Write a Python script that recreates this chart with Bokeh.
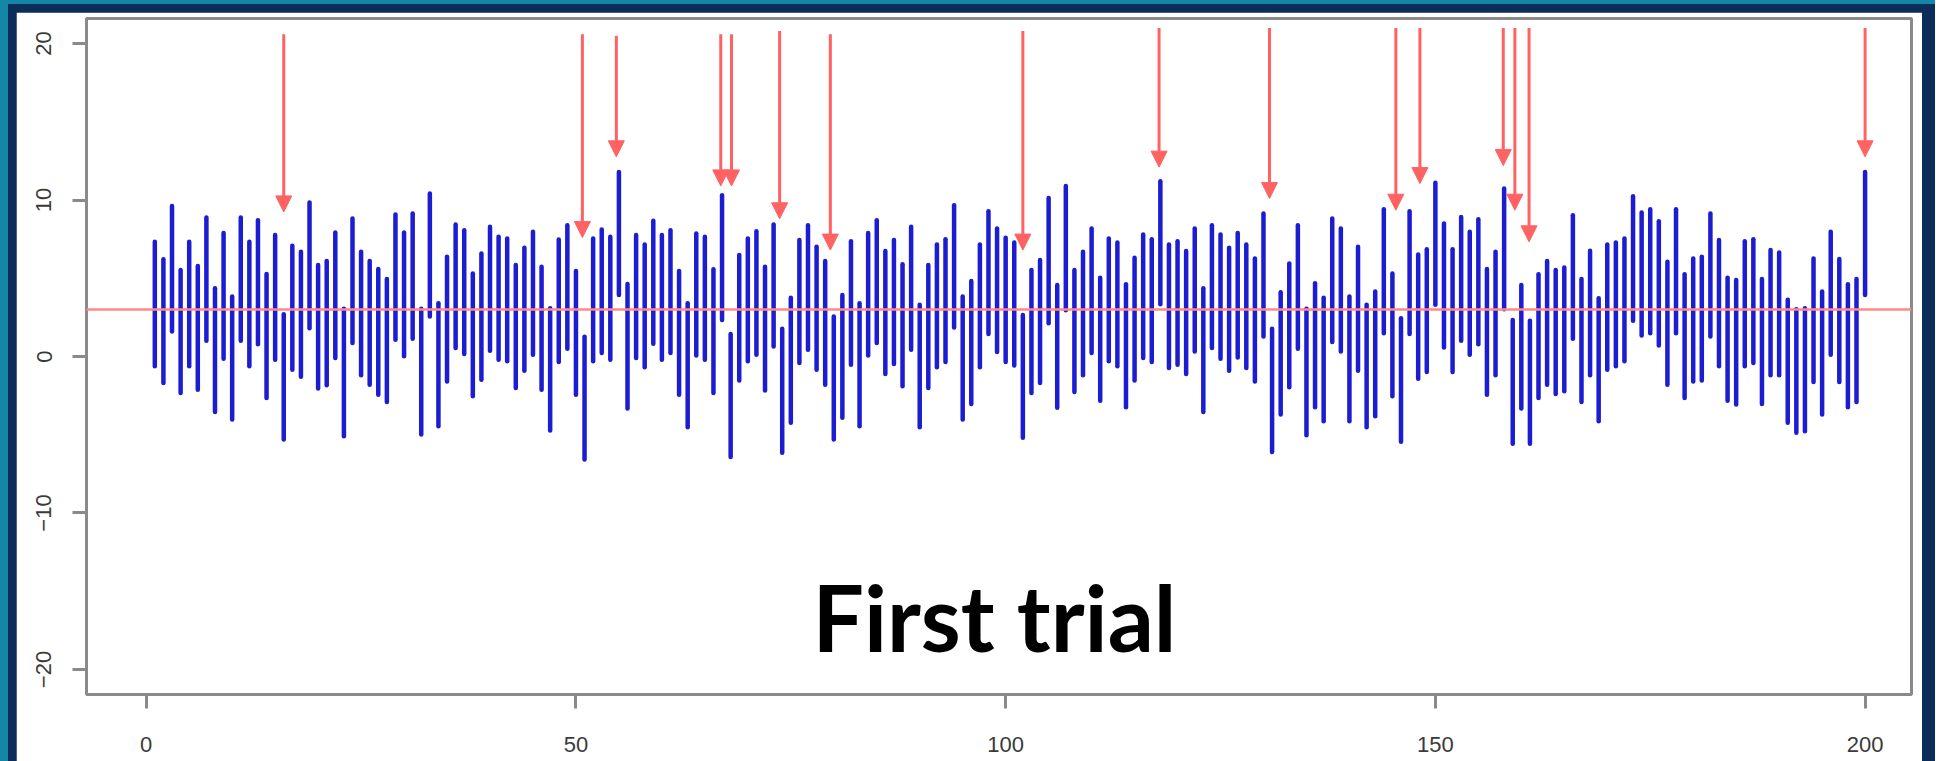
from bokeh.plotting import figure
from bokeh.models import Span, Arrow, NormalHead, Label, FixedTicker, ColumnDataSource, Range1d
from bokeh.layouts import column
from bokeh.embed import file_html
from bokeh.resources import INLINE

# ---------------- data ----------------
trial = list(range(1, 201))

upper = [
    7.33, 6.21, 9.62, 5.53, 7.33, 5.78, 8.88, 4.36, 7.90, 3.83,
    8.88, 7.33, 8.71, 5.27, 7.76, 2.70, 7.08, 6.69, 9.84, 5.85,
    6.10, 7.93, 3.05, 8.82, 6.69, 6.10, 5.59, 4.95, 9.07, 7.93,
    9.14, 3.05, 10.41, 3.40, 6.38, 8.44, 8.07, 5.31, 6.59, 8.29,
    7.65, 7.54, 5.85, 6.95, 7.97, 5.74, 3.08, 7.48, 8.39, 5.46,
    1.26, 7.54, 8.12, 7.65, 11.79, 4.63, 7.76, 7.16, 8.67, 7.76,
    8.07, 5.46, 3.40, 7.86, 7.65, 5.57, 10.30, 1.43, 6.48, 7.54,
    8.01, 5.74, 8.44, 1.77, 3.76, 7.44, 8.39, 7.01, 6.10, 2.55,
    3.93, 7.37, 3.40, 7.90, 8.71, 6.74, 7.44, 5.89, 8.29, 3.30,
    5.85, 7.16, 7.50, 9.67, 3.83, 4.83, 7.16, 9.28, 8.18, 7.59,
    7.29, 2.66, 5.53, 6.16, 10.13, 4.57, 10.90, 5.53, 6.69, 8.18,
    5.04, 7.54, 7.29, 4.61, 6.31, 7.80, 7.50, 11.20, 7.16, 7.37,
    6.74, 8.18, 4.36, 8.39, 7.80, 6.95, 7.90, 7.16, 6.27, 9.14,
    1.77, 4.10, 5.95, 8.39, 3.05, 4.68, 3.76, 8.82, 8.18, 3.83,
    7.01, 3.30, 4.15, 9.41, 5.31, 2.45, 9.28, 6.52, 6.86, 11.11,
    8.50, 6.86, 8.92, 7.97, 8.77, 5.59, 6.69, 10.73, 2.34, 4.57,
    2.28, 5.25, 6.10, 5.53, 5.68, 9.03, 4.95, 6.76, 3.72, 7.16,
    7.29, 7.54, 10.24, 9.20, 9.41, 8.65, 6.06, 9.41, 5.25, 6.27,
    6.38, 9.14, 7.44, 5.04, 4.89, 7.37, 7.50, 4.95, 6.80, 6.65,
    3.62, 3.02, 3.08, 6.27, 4.15, 7.97, 6.23, 4.61, 4.95, 11.79,
]

lower = [
    -0.63, -1.69, 1.60, -2.33, -0.63, -2.12, 1.00, -3.54, -0.14, -4.03,
    1.00, -0.63, 0.79, -2.65, -0.21, -5.30, -0.84, -1.30, 1.81, -2.05,
    -1.84, -0.10, -5.09, 0.86, -1.20, -1.80, -2.44, -2.90, 1.07, 0.01,
    1.13, -4.98, 2.55, -4.45, -1.59, 0.54, 0.16, -2.54, -1.48, 0.37,
    -0.21, -0.31, -2.01, -0.91, 0.11, -2.12, -4.73, -0.35, 0.49, -2.44,
    -6.58, -0.31, 0.22, -0.21, 3.93, -3.33, -0.10, -0.69, 0.81, -0.21,
    0.22, -2.44, -4.52, 0.07, -0.21, -2.33, 2.34, -6.43, -1.54, -0.31,
    0.11, -2.18, 0.64, -6.15, -4.24, -0.42, 0.43, -0.84, -1.80, -5.30,
    -3.92, -0.52, -4.45, 0.07, 0.86, -1.12, -0.48, -1.90, 0.43, -4.52,
    -2.01, -0.69, -0.35, 1.85, -4.03, -3.03, -0.69, 1.43, 0.28, -0.35,
    -0.57, -5.20, -2.33, -1.69, 2.13, -3.28, 2.95, -2.27, -1.20, 0.22,
    -2.82, -0.31, -0.63, -3.24, -1.54, -0.10, -0.35, 3.34, -0.74, -0.52,
    -1.12, 0.32, -3.54, 0.54, -0.14, -0.91, -0.06, -0.74, -1.59, 1.28,
    -6.11, -3.71, -1.97, 0.49, -5.03, -3.24, -4.13, 0.92, 0.32, -4.13,
    -0.91, -4.52, -3.82, 1.49, -2.54, -5.45, 1.43, -1.42, -0.99, 3.30,
    0.58, -0.99, 1.00, 0.11, 0.79, -2.44, -1.20, 3.02, -5.58, -3.33,
    -5.58, -2.65, -1.80, -2.39, -2.22, 1.13, -2.90, -1.20, -4.13, -0.84,
    -0.63, -0.31, 2.28, 1.34, 1.49, 0.71, -1.80, 1.49, -2.65, -1.59,
    -1.54, 1.28, -0.63, -2.82, -3.07, -0.63, -0.42, -3.03, -1.20, -1.20,
    -4.24, -4.88, -4.77, -1.63, -3.71, 0.11, -1.63, -3.24, -2.90, 3.93,
]

true_value = 3

arrow_x = [16.0, 50.75, 54.7, 66.85, 68.1, 73.7, 79.6, 102.0, 117.85, 130.7,
           145.4, 148.2, 157.9, 159.25, 160.9, 200.0]
arrow_top = [20.6, 20.6, 20.5, 20.6, 20.6, 20.8, 20.6, 20.8, 21.0, 21.0,
             21.0, 21.0, 21.0, 21.0, 21.0, 21.0]
arrow_tip = [9.24, 7.6, 12.76, 10.9, 10.9, 8.8, 6.8, 6.8, 12.1, 10.1,
             9.35, 11.05, 12.2, 9.35, 7.33, 12.76]

x_ticks = [0, 50, 100, 150, 200]
y_ticks = [-20, -10, 0, 10, 20]
caption = "First trial"
caption_x = 98.7
caption_y = -16.6

# ---------------- styles ----------------
TEAL = "#1587a6"
NAVY = "#0c2c5a"
BLUE = "#1c1cd0"
RED = "#ff6262"
PINK = "#ff8888"
GRAY = "#8a8a8a"

p = figure(width=1906, height=749,
           x_range=Range1d(-6.95, 205.4), y_range=Range1d(-21.6, 21.6),
           output_backend="svg", toolbar_location=None,
           min_border_left=70, min_border_right=11,
           min_border_top=6, min_border_bottom=67)
p.border_fill_color = "white"
p.background_fill_color = "white"
p.outline_line_color = GRAY
p.outline_line_width = 3
p.grid.visible = False

for ax in (p.xaxis[0], p.yaxis[0]):
    ax.axis_line_color = None
    ax.major_tick_out = 14
    ax.major_tick_in = 0
    ax.major_tick_line_color = GRAY
    ax.major_tick_line_width = 3
    ax.minor_tick_line_color = None
    ax.major_label_text_font = "Liberation Sans"
    ax.major_label_text_font_size = "22px"
    ax.major_label_text_color = "#3a3a3a"

p.xaxis.ticker = FixedTicker(ticks=x_ticks)
p.yaxis.ticker = FixedTicker(ticks=y_ticks)
p.xaxis.major_label_standoff = 28
p.yaxis.major_label_standoff = 21
p.yaxis.major_label_orientation = "vertical"

p.add_layout(Span(location=true_value, dimension="width",
                  line_color=PINK, line_width=2.5))

p.segment(x0=trial, y0=lower, x1=trial, y1=upper,
          line_color=BLUE, line_width=4.5, line_cap="round")

src = ColumnDataSource(dict(x=arrow_x, y0=arrow_top, y1=arrow_tip))
p.add_layout(Arrow(end=NormalHead(size=16, fill_color=RED, line_color=RED, line_width=1),
                   x_start="x", y_start="y0", x_end="x", y_end="y1",
                   source=src, line_color=RED, line_width=3))

p.add_layout(Label(x=caption_x, y=caption_y, text=caption, text_align="center",
                   text_baseline="alphabetic", text_font="Lato",
                   text_font_style="bold", text_font_size="91px",
                   text_color="black"))

inner = column(p, styles={"background-color": NAVY,
                          "padding": "8px 13px 0px 8px"})
outer = column(inner, styles={"background-color": TEAL,
                              "padding": "4px 0px 0px 8px"})

open("out.html", "w").write(file_html(outer, INLINE))
